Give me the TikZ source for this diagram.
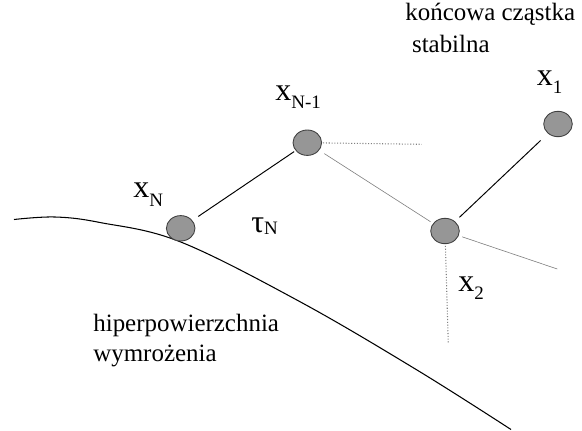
\documentclass[tikz,border=0pt]{standalone}
\usepackage{fontspec}
\setmainfont{Liberation Serif}
\usetikzlibrary{shapes.geometric}
\definecolor{ballgray}{RGB}{150,150,150}
\newcommand{\idx}[2][0.16cm]{\raisebox{-#1}{\fontsize{10.8pt}{12pt}\selectfont #2}}

\begin{document}
\begin{tikzpicture}[x=0.02cm, y=-0.02cm,
  ball/.style={ellipse, draw=black!75, line width=0.5pt, fill=ballgray,
    minimum width=0.572cm, minimum height=0.508cm, inner sep=0pt},
  lbl/.style={anchor=base west, inner sep=0pt, font=\fontsize{18.2pt}{20pt}\selectfont},
  txt/.style={anchor=base west, inner sep=0pt, font=\fontsize{14.2pt}{17pt}\selectfont},
  bond/.style={line width=0.55pt},
  ghost/.style={gray, line width=0.35pt},
  dots/.style={gray, densely dotted, line width=0.6pt}]
    \useasboundingbox (0,0) rectangle (582,430);
    % HIPERPOWIERZCHNIA
    \draw[line width=0.6pt] plot[smooth, tension=0.6] coordinates
        {(14,219.5) (55,217) (100,222.5) (180,241.7) (300,301.7) (417,370) (511,429.5)};
    \node[txt] (hyp1) at (93,331.7) {hiperpowierzchnia};
    \node[txt] (hyp2) at (93,361.7) {wymrożenia};
    % CZASTKI
    \node[ball] (xN)   at (180.7,228.3) {};
    \node[ball] (xNm1) at (307.3,142.7) {};
    \node[ball] (x2)   at (445,231) {};
    \node[ball] (x1)   at (558,124) {};
    \coordinate (hend) at (421.7,144.3);
    \coordinate (rend) at (557.3,269);
    \coordinate (vend) at (448.3,344);
    % POLACZENIA
    \draw[bond, shorten <=4pt, shorten >=1pt] (xN) -- (xNm1);
    \draw[dots, shorten <=0.6pt] (xNm1) -- (hend);
    \draw[ghost, shorten <=3.4pt, shorten >=1.7pt] (xNm1) -- (x2);
    \draw[bond, shorten <=3.4pt, shorten >=5.7pt] (x2) -- (x1);
    \draw[ghost, shorten <=2pt] (x2) -- (rend);
    \draw[dots, shorten <=1pt] (x2) -- (vend);
    % ETYKIETY
    \node[lbl] (lxN)   at (133,197) {x\idx[0.18cm]{N}};
    \node[lbl] (lxNm1) at (275,100) {x\idx{N-1}};
    \node[lbl] (lx1)   at (536.5,85) {x\idx{1}};
    \node[lbl] (lx2)   at (458,291.7) {x\idx{2}};
    \node[lbl] (tau)   at (251,232) {τ\idx[0.05cm]{N}};
    \node[txt] (stab1) at (405,20.7) {końcowa cząstka};
    \node[txt] (stab2) at (411.7,52.7) {stabilna};
\end{tikzpicture}
\end{document}
